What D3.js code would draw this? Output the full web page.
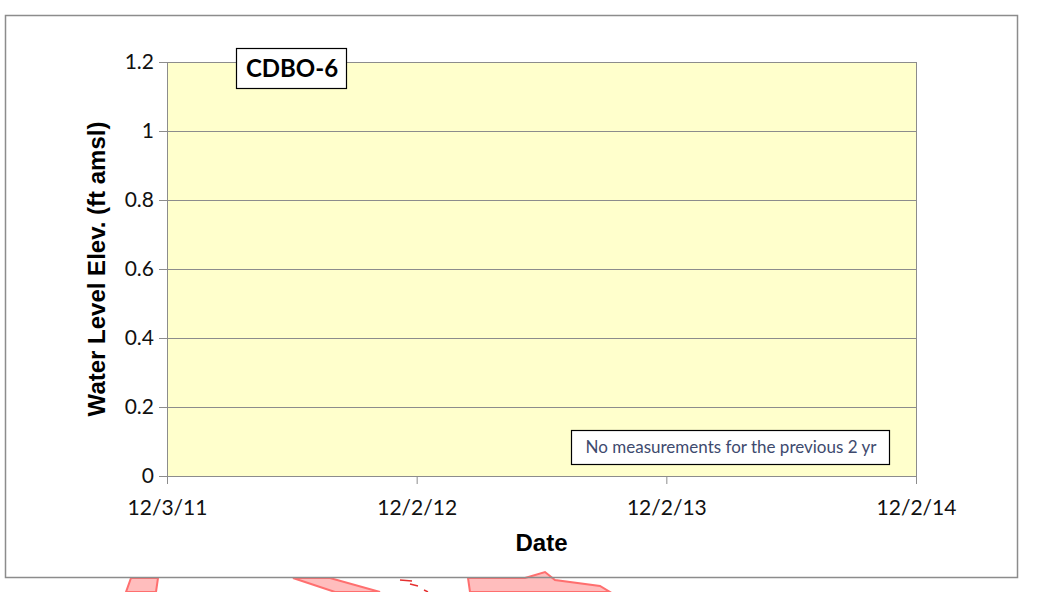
<!DOCTYPE html>
<html>
<head>
<meta charset="utf-8">
<script src="https://cdn.jsdelivr.net/npm/d3@7"></script>
<style>
  body { margin: 0; background: #fff; }
  svg { display: block; }
</style>
</head>
<body>
<svg id="chart"></svg>
<script>
// chart data (no measurements in the window)
let yTicks = [0, 0.2, 0.4, 0.6, 0.8, 1, 1.2];
let xTickLabels = ["12/3/11", "12/2/12", "12/2/13", "12/2/14"];
let xTickDates = xTickLabels.map((s) => d3.timeParse("%m/%d/%y")(s));
let values = [];
let wellName = "CDBO-6";
let note = "No measurements for the previous 2 yr";

let width = 1045;
let height = 592;
let margin = { left: 167, right: 129, top: 62, bottom: 116 };
let plotW = width - margin.left - margin.right;
let plotH = height - margin.top - margin.bottom;

let svg = d3.select("#chart").attr("width", width).attr("height", height);

// stray red stamp pieces poking in below the frame
let stamp = svg.append("g").attr("fill", "#ffbdbd").attr("stroke", "#ff6f6f").attr("stroke-width", 2);
stamp.append("path").attr("d", "M131,578 L158,578 L156,592 L126,592 Z");
stamp.append("path").attr("d", "M293,578 L330,578 L380,592 L335,592 Z");
stamp.append("path").attr("d", "M468,578 L525,578 L545,572 L555,580 L600,586 L610,592 L470,592 Z");
svg.append("path").attr("d", "M400,580 L412,581 M410,584 L418,586 M424,590 L428,592")
  .attr("stroke", "#e53030").attr("stroke-width", 1.5).attr("fill", "none");

// outer chart frame
svg.append("rect")
  .attr("x", 5.5).attr("y", 15.5)
  .attr("width", 1012).attr("height", 562)
  .attr("fill", "none").attr("stroke", "#8c8c8c").attr("stroke-width", 1.5);

let x = d3.scaleTime()
  .domain([xTickDates[0], xTickDates[xTickDates.length - 1]])
  .range([0, plotW]);
let y = d3.scaleLinear().domain([0, 1.2]).range([plotH, 0]);

let g = svg.append("g").attr("transform", `translate(${margin.left},${margin.top})`);

g.append("rect")
  .attr("width", plotW).attr("height", plotH)
  .attr("fill", "#ffffcc");

// gridlines
g.selectAll(".grid")
  .data(yTicks.filter((d) => d > 0))
  .enter()
  .append("line")
  .attr("x1", 0).attr("x2", plotW)
  .attr("y1", (d) => Math.round(y(d)) + 0.5)
  .attr("y2", (d) => Math.round(y(d)) + 0.5)
  .attr("stroke", "#8c8c8c").attr("stroke-width", 1);

// plot border on the right
g.append("line")
  .attr("x1", plotW + 0.5).attr("x2", plotW + 0.5)
  .attr("y1", 0).attr("y2", plotH)
  .attr("stroke", "#8c8c8c");

let yAxis = g.append("g")
  .call(d3.axisLeft(y).tickValues(yTicks).tickFormat(d3.format("")).tickSize(8).tickPadding(5));
let xAxis = g.append("g")
  .attr("transform", `translate(0,${plotH})`)
  .call(d3.axisBottom(x).tickValues(xTickDates).tickFormat((d, i) => xTickLabels[i]).tickSize(8).tickPadding(16));

[yAxis, xAxis].forEach((a) => {
  a.selectAll("path, line").attr("stroke", "#8c8c8c");
  a.selectAll("text")
    .attr("fill", "#111")
    .style("font-family", "Lato, 'Open Sans', sans-serif")
    .style("font-size", "21px");
});

// line of measurements (empty)
g.append("path")
  .datum(values)
  .attr("fill", "none")
  .attr("stroke", "#1f4e99")
  .attr("d", d3.line().x((d) => x(d.date)).y((d) => y(d.value)));

// axis titles
svg.append("text")
  .attr("x", margin.left + plotW / 2).attr("y", 551)
  .attr("text-anchor", "middle")
  .style("font-family", "'Liberation Sans', Arial, sans-serif")
  .style("font-weight", "bold").style("font-size", "24px")
  .text("Date");

svg.append("text")
  .attr("transform", `translate(105,269) rotate(-90)`)
  .attr("text-anchor", "middle")
  .style("font-family", "'Liberation Sans', Arial, sans-serif")
  .style("font-weight", "bold").style("font-size", "24px")
  .text("Water Level Elev. (ft amsl)");

// well name box
svg.append("rect")
  .attr("x", 236.5).attr("y", 48.5).attr("width", 110).attr("height", 40)
  .attr("fill", "#fff").attr("stroke", "#000").attr("stroke-width", 1.2);
svg.append("text")
  .attr("x", 292).attr("y", 77)
  .attr("text-anchor", "middle")
  .style("font-family", "Lato, sans-serif")
  .style("font-weight", "bold").style("font-size", "24px")
  .text(wellName);

// note box
svg.append("rect")
  .attr("x", 571.5).attr("y", 430.5).attr("width", 318).attr("height", 34)
  .attr("fill", "#fff").attr("stroke", "#000").attr("stroke-width", 1.2);
svg.append("text")
  .attr("x", 731).attr("y", 453)
  .attr("text-anchor", "middle")
  .attr("fill", "#3e4a6e")
  .style("font-family", "Lato, sans-serif")
  .style("font-size", "17px")
  .text(note);
</script>
</body>
</html>
